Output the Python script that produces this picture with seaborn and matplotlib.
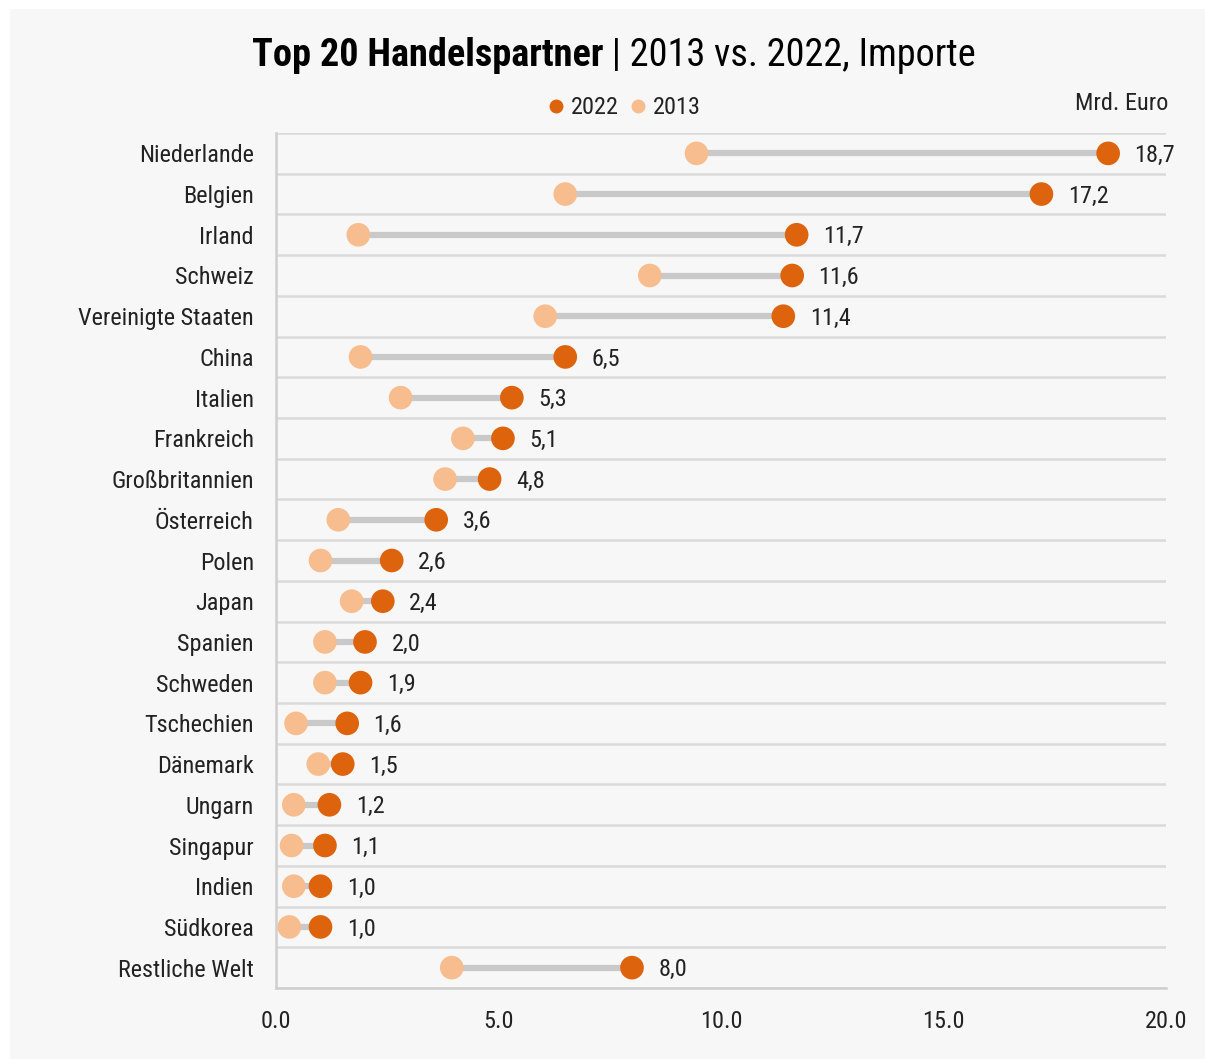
import numpy as np
import matplotlib
matplotlib.use("Agg")
import matplotlib.pyplot as plt
from matplotlib.patches import Rectangle
from matplotlib.lines import Line2D
from matplotlib import font_manager
import seaborn as sns
import pandas as pd

countries = ["Niederlande", "Belgien", "Irland", "Schweiz", "Vereinigte Staaten",
             "China", "Italien", "Frankreich", "Großbritannien", "Österreich",
             "Polen", "Japan", "Spanien", "Schweden", "Tschechien", "Dänemark",
             "Ungarn", "Singapur", "Indien", "Südkorea", "Restliche Welt"]
imports_2022 = [18.7, 17.2, 11.7, 11.6, 11.4, 6.5, 5.3, 5.1, 4.8, 3.6,
                2.6, 2.4, 2.0, 1.9, 1.6, 1.5, 1.2, 1.1, 1.0, 1.0, 8.0]
imports_2013 = [9.45, 6.5, 1.85, 8.4, 6.05, 1.9, 2.8, 4.2, 3.8, 1.4,
                1.0, 1.7, 1.1, 1.1, 0.45, 0.95, 0.4, 0.35, 0.4, 0.3, 3.95]
xticks = [0, 5, 10, 15, 20]

c2022 = "#dd640c"
c2013 = "#f8bd8e"
bg = "#f7f7f7"
fs = 17.5

sns.set_theme(style="white")
avail = {f.name for f in font_manager.fontManager.ttflist}
base = next((f for f in ["Roboto Condensed", "Liberation Sans Narrow", "Roboto"] if f in avail),
            "Liberation Sans")
plt.rcParams["font.family"] = [base, "DejaVu Sans"]

df = pd.DataFrame({"land": countries, "y2022": imports_2022, "y2013": imports_2013})
df["pos"] = np.arange(len(df))

fig = plt.figure(figsize=(12.05, 10.59), dpi=100)
fig.patch.set_facecolor("white")
fig.add_artist(Rectangle((10 / 1205, 0), 1, 1 - 9 / 1059, transform=fig.transFigure,
                         facecolor=bg, edgecolor="none", zorder=0))

ax = fig.add_axes([276 / 1205, 71 / 1059, 890 / 1205, 855 / 1059])
ax.set_facecolor(bg)

# connecting bars between the two years
ax.hlines(df["pos"], df["y2013"], df["y2022"], color="#c9c9c9", lw=4.5, zorder=1)

long = df.melt(id_vars=["land", "pos"], value_vars=["y2013", "y2022"],
               var_name="jahr", value_name="wert")
sns.scatterplot(data=long, x="wert", y="pos", hue="jahr",
                palette={"y2013": c2013, "y2022": c2022},
                s=290, edgecolor="none", linewidth=0, legend=False, ax=ax, zorder=3)

for _, r in df.iterrows():
    ax.annotate(f"{r.y2022:.1f}".replace(".", ","), (r.y2022, r.pos),
                xytext=(19, -1.5), textcoords="offset points", va="center", ha="left",
                fontsize=fs, color="#222222")

n = len(df)
ax.set_ylim(n - 0.5, -0.5)
ax.set_xlim(0, 20)
ax.set_yticks(df["pos"])
ax.set_yticklabels(df["land"], fontsize=fs, color="#222222")
ax.set_yticks(np.arange(n + 1) - 0.5, minor=True)
ax.set_xticks(xticks)
ax.set_xticklabels([f"{t:.1f}" for t in xticks], fontsize=fs, color="#222222")
ax.tick_params(axis="y", which="both", length=0, pad=16)
ax.tick_params(axis="x", length=0, pad=16)
ax.grid(axis="y", which="minor", color="#dadada", lw=1.8, zorder=0)
ax.grid(axis="y", which="major", visible=False)
ax.grid(axis="x", visible=False)
ax.set_xlabel("")
ax.set_ylabel("")
for s in ["top", "right"]:
    ax.spines[s].set_visible(False)
for s in ["left", "bottom"]:
    ax.spines[s].set_color("#cfcfcf")
    ax.spines[s].set_linewidth(1.8)

# title: bold lead-in followed by regular subtitle
fig.canvas.draw()
renderer = fig.canvas.get_renderer()
ty = 1 - 55 / 1059
t1 = fig.text(0, ty, "Top 20 Handelspartner", fontsize=27.5, fontweight="bold",
              va="center", ha="left", color="black")
t2 = fig.text(0, ty, " | 2013 vs. 2022, Importe", fontsize=27.5,
              va="center", ha="left", color="black")
w1 = t1.get_window_extent(renderer).width
w2 = t2.get_window_extent(renderer).width
x0 = 614 - (w1 + w2) / 2
t1.set_x(x0 / 1205)
t2.set_x((x0 + w1) / 1205)

handles = [Line2D([], [], marker="o", ls="none", color=c2022, markersize=9, label="2022"),
           Line2D([], [], marker="o", ls="none", color=c2013, markersize=9, label="2013")]
fig.legend(handles=handles, loc="center", bbox_to_anchor=(622 / 1205, 1 - 108 / 1059),
           ncol=2, frameon=False, fontsize=fs, handletextpad=0.1, columnspacing=0.3,
           handlelength=1.0, labelcolor="#222222")

fig.text(1168 / 1205, 1 - 104 / 1059, "Mrd. Euro", fontsize=fs, ha="right", va="center",
         color="#222222")

fig.savefig("out.png", dpi=100, facecolor=fig.get_facecolor())
